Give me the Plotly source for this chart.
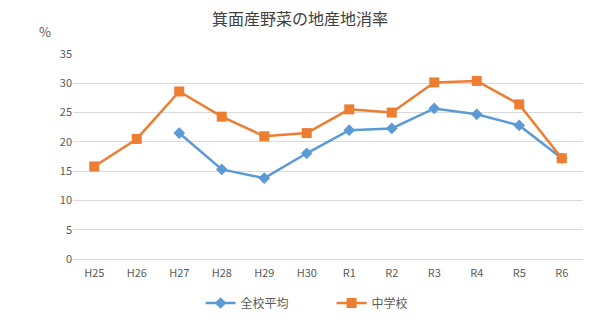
import plotly.graph_objects as go

years = ["H25", "H26", "H27", "H28", "H29", "H30", "R1", "R2", "R3", "R4", "R5", "R6"]
all_schools = [None, None, 21.5, 15.3, 13.8, 18.05, 22.0, 22.3, 25.7, 24.7, 22.8, 17.2]
junior_high = [15.8, 20.5, 28.6, 24.3, 20.95, 21.5, 25.55, 25.0, 30.15, 30.4, 26.4, 17.2]

font_jp = "Noto Sans CJK JP"

fig = go.Figure()
fig.add_trace(go.Scatter(
    x=years, y=all_schools, name="全校平均", mode="lines+markers",
    line=dict(color="#5B9BD5", width=2.5),
    marker=dict(symbol="diamond", size=9, color="#5B9BD5"),
))
fig.add_trace(go.Scatter(
    x=years, y=junior_high, name="中学校", mode="lines+markers",
    line=dict(color="#ED7D31", width=2.5),
    marker=dict(symbol="square", size=10, color="#ED7D31"),
))

fig.update_layout(
    width=600, height=328,
    margin=dict(l=73, r=17, t=54, b=69, autoexpand=False),
    paper_bgcolor="white", plot_bgcolor="white",
    font=dict(family=font_jp, color="#595959", size=11),
    title=dict(text="箕面産野菜の地産地消率", x=0.5, xanchor="center",
               y=0.94, yanchor="middle",
               font=dict(family=font_jp, size=16, color="#404040")),
    showlegend=True,
    legend=dict(orientation="h", x=0.507, xanchor="center",
                yref="container", y=1 - 303 / 328, yanchor="middle",
                font=dict(family=font_jp, size=12, color="#595959"),
                entrywidth=86, tracegroupgap=0),
    xaxis=dict(type="category", range=[-0.5, len(years) - 0.5],
               showgrid=False, showline=True,
               linecolor="#D9D9D9", linewidth=1, ticks="", ticklabelstandoff=4,
               tickfont=dict(size=11), fixedrange=True, automargin=False),
    yaxis=dict(range=[0, 35], dtick=5, showgrid=True, gridcolor="#D9D9D9",
               zeroline=False, showline=False, ticks="", tickfont=dict(size=11),
               fixedrange=True, automargin=False),
    annotations=[dict(text="%", xref="paper", yref="paper", x=-0.055, y=1.11,
                      xanchor="center", yanchor="middle", showarrow=False,
                      font=dict(size=13, color="#595959"))],
)

fig.write_html("out.html")
